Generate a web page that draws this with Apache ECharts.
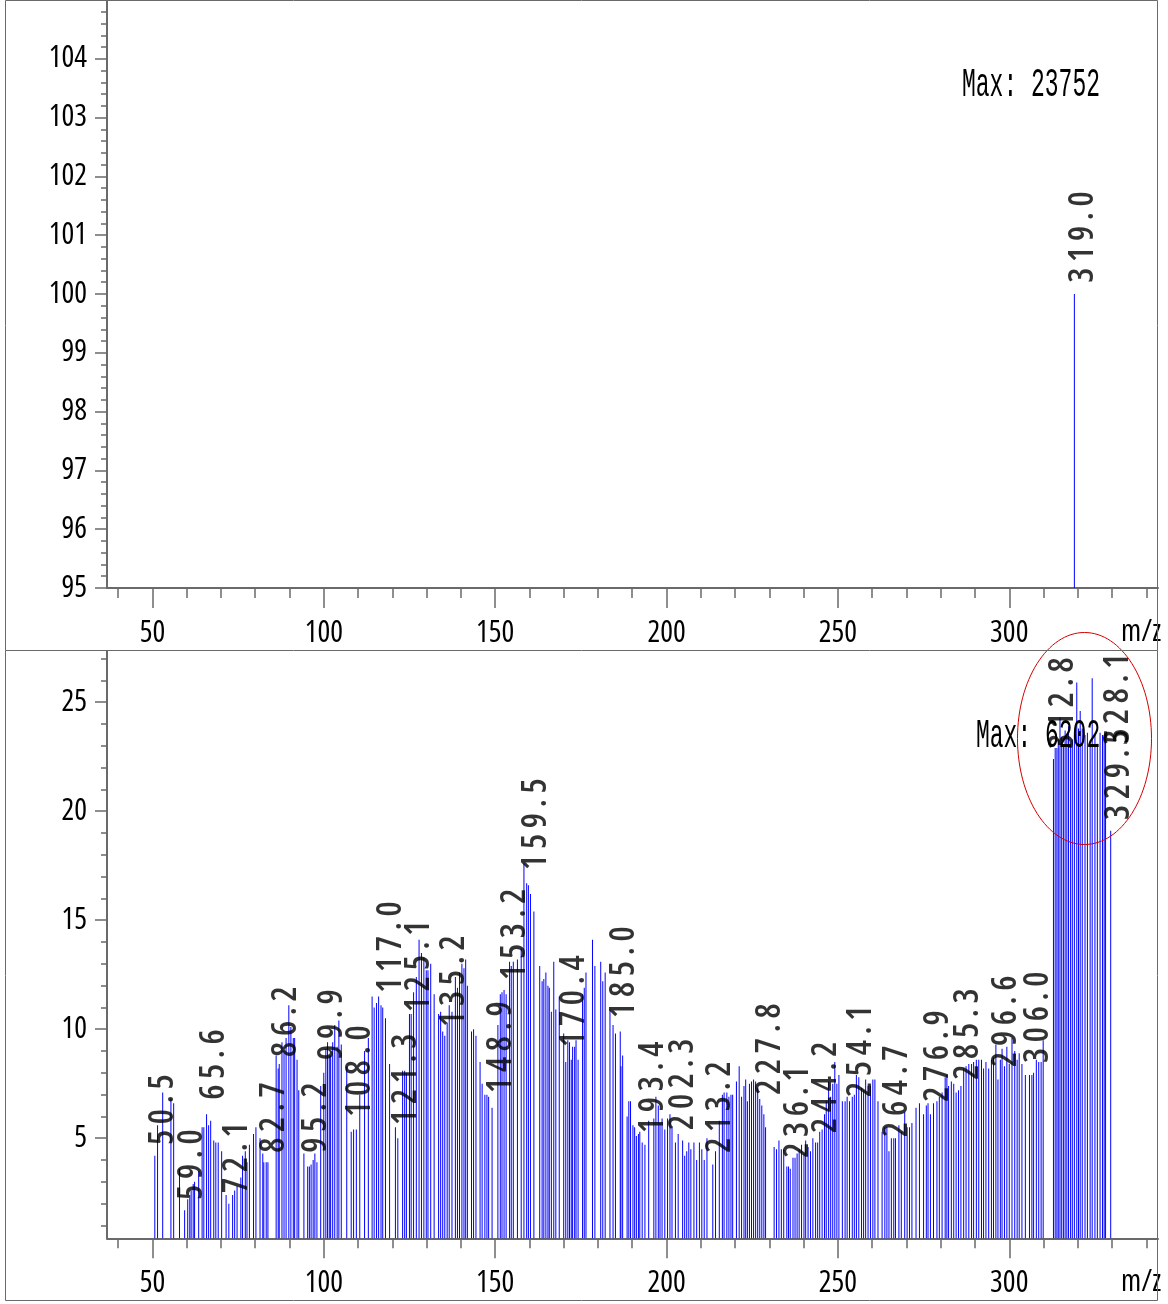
<!DOCTYPE html>
<html><head><meta charset="utf-8">
<script src="https://cdn.jsdelivr.net/npm/echarts@6/dist/echarts.min.js"></script>
<style>html,body{margin:0;padding:0;background:#fff}#c{width:1168px;height:1304px}</style>
</head><body><div id="c"></div>
<script>
// Condensed face: map the token "OpenSansCond" to Open Sans with font-stretch: condensed (canvas).
(function () {
  try {
    const P = CanvasRenderingContext2D.prototype;
    const d = Object.getOwnPropertyDescriptor(P, 'font');
    Object.defineProperty(P, 'font', {
      configurable: true,
      get() { return d.get.call(this); },
      set(v) {
        if (typeof v === 'string' && v.indexOf('OpenSansCond') >= 0) {
          d.set.call(this, v.replace('OpenSansCond', '"Open Sans"'));
          this.fontStretch = 'condensed';
        } else {
          d.set.call(this, v);
          this.fontStretch = 'normal';
        }
      }
    });
  } catch (e) {}
})();

// ---- data: top panel (full scale, %) ----
const topMz = [319.0];
const topIntensity = [100];
const topLabelText = ['319.0'];
const topLabelMz = [321.7];
const topLabelLevel = [100.19];
const topMaxText = 'Max: 23752';

// ---- data: bottom panel (zoomed, %) ----
const spectrumMz = [
50.7,51.5,53.0,55.4,56.2,57.9,59.4,60.3,60.9,61.3,61.9,62.3,63.5,64.5,65.0,65.8,66.4,67.0,67.9,68.5,69.2,70.2,71.5,72.3,73.4,74.0,74.7,75.8,76.3,77.1,77.6,78.3,79.5,80.2,81.4,82.2,82.5,83.2,83.7,
86.1,86.7,87.0,87.8,88.4,89.0,89.8,90.4,91.1,91.5,92.2,92.7,94.2,95.3,95.8,96.3,96.9,97.4,98.0,99.1,100.0,100.6,101.1,101.6,102.0,102.6,103.2,103.9,104.4,105.1,106.7,108.0,108.7,109.5,110.5,111.9,113.0,
114.1,114.7,115.4,116.0,116.7,117.2,118.0,119.2,120.9,121.6,123.0,123.6,124.1,125.0,125.5,126.2,127.0,127.8,128.5,129.2,129.9,130.4,131.2,132.2,133.5,134.1,134.7,135.3,136.0,136.6,137.4,138.4,139.0,139.6,140.3,140.9,141.4,141.9,
143.1,143.7,144.4,145.6,146.2,147.0,147.6,148.1,149.1,150.8,151.5,152.0,152.6,153.2,154.2,154.7,155.3,156.5,157.6,158.4,159.2,159.7,160.3,161.3,163.0,163.7,164.2,164.8,165.4,165.8,166.4,167.1,167.7,168.7,
170.0,170.6,171.2,171.7,172.2,172.6,173.2,173.6,174.2,175.5,176.0,176.5,178.4,179.1,180.8,181.4,182.1,183.5,184.4,185.1,186.5,186.7,187.2,188.5,189.0,189.5,190.2,190.7,191.2,191.8,192.2,192.9,193.7,194.8,
196.3,196.9,197.6,198.1,198.7,199.5,200.3,201.0,201.6,202.6,203.4,204.7,205.3,205.9,206.5,207.1,208.0,208.8,209.6,210.3,211.0,211.8,213.5,214.3,215.4,216.3,216.8,217.6,218.2,218.8,219.3,220.4,221.2,221.9,
222.6,223.1,223.6,224.2,224.8,225.4,226.0,226.6,227.2,227.8,228.4,228.9,231.4,232.1,232.8,233.5,234.2,235.1,235.6,236.1,236.9,237.5,238.1,238.7,239.4,240.1,240.6,241.3,242.0,242.7,243.5,244.1,244.7,245.4,
246.1,246.6,247.3,247.9,248.5,249.1,249.7,250.3,251.3,252.1,252.7,253.4,254.2,254.8,255.4,256.1,256.9,257.5,258.1,258.8,259.5,260.2,260.8,261.7,262.9,263.7,264.3,264.9,265.6,266.3,266.8,267.8,268.5,269.5,
270.2,270.9,271.6,272.8,273.8,275.0,275.8,276.3,277.0,277.9,278.9,279.6,280.4,281.3,281.8,282.3,283.1,283.8,284.5,285.2,285.9,286.7,287.4,288.2,289.0,289.6,290.4,291.1,291.9,292.5,293.2,294.0,294.8,295.4,
296.1,296.7,297.4,297.9,298.6,299.3,300.0,300.8,301.6,302.3,302.9,303.7,304.7,305.9,306.6,307.1,307.9,308.6,309.3,309.9,
312.9,313.4,313.9,314.3,314.8,315.3,315.8,316.3,316.8,317.3,317.9,318.4,319.0,319.7,320.2,320.7,321.3,322.1,322.8,323.6,324.2,325.0,325.7,326.5,327.2,327.7,328.1,329.6
];
const spectrumIntensity = [
4.2,5.6,7.1,6.8,6.6,3.6,1.7,2.2,2.4,2.6,2.9,3.0,3.5,5.5,5.5,6.1,5.6,5.8,4.9,4.8,4.8,4.4,2.4,2.0,2.4,2.6,2.8,3.2,4.2,4.4,3.9,4.7,5.2,5.5,5.0,4.3,3.9,3.9,3.9,
8.8,8.2,8.4,9.4,9.0,9.6,11.1,10.1,9.6,9.6,8.6,7.2,4.3,3.7,3.7,3.8,4.0,4.3,3.9,7.4,8.0,9.1,9.4,8.8,8.8,9.4,10.2,9.2,10.4,9.3,8.3,5.3,5.4,5.4,7.0,9.0,9.6,
11.5,11.0,11.2,11.5,11.1,11.0,10.5,8.4,5.5,5.0,8.1,8.1,8.0,10.7,10.7,11.7,12.4,14.1,13.5,13.3,12.7,12.7,13.0,11.6,10.7,10.8,9.9,9.7,10.3,11.1,10.8,12.4,11.9,12.6,13.0,12.8,13.2,12.0,
9.9,10.0,9.7,8.5,7.5,7.0,7.0,6.9,6.4,10.2,11.6,11.7,11.8,11.6,13.1,12.9,13.1,13.2,13.7,17.6,16.7,16.6,16.2,15.4,12.9,12.2,12.3,12.6,12.0,11.9,10.8,13.1,10.9,11.5,
9.8,8.5,9.5,9.4,8.6,9.2,9.2,9.5,8.6,11.6,11.9,12.6,14.1,12.9,13.1,12.2,12.6,10.9,10.2,9.8,9.9,8.3,8.8,6.0,6.7,6.7,5.6,5.5,5.1,5.2,5.3,4.8,4.7,5.8,
5.9,6.9,6.5,5.7,5.9,5.4,5.9,6.1,5.5,4.8,5.2,4.9,4.2,4.4,4.8,4.5,4.8,4.0,4.8,4.5,4.0,5.0,3.8,4.4,5.8,7.0,7.1,7.1,6.9,7.0,7.0,7.6,8.3,6.9,
7.4,7.7,6.7,7.5,7.6,7.7,7.6,7.3,6.8,6.5,6.1,5.5,4.6,4.5,4.9,4.5,4.5,3.7,3.7,3.6,4.1,4.1,4.3,4.5,4.7,4.3,4.9,4.6,4.4,5.0,4.8,4.8,5.3,5.4,
6.1,6.7,7.6,6.9,7.5,8.5,7.5,7.9,6.7,6.7,6.9,6.7,6.9,7.0,7.9,7.8,7.3,7.2,7.7,7.4,7.4,7.7,7.7,6.7,5.3,5.5,5.5,4.4,5.0,5.0,5.0,5.6,5.3,6.2,
5.5,5.5,5.7,6.4,6.6,6.1,6.5,6.6,6.1,6.6,6.7,6.9,7.1,7.8,7.9,7.4,7.6,7.5,7.1,7.2,7.4,8.2,8.3,8.4,8.4,8.5,8.6,8.6,8.6,8.2,8.5,8.2,8.6,8.7,
9.3,7.7,8.6,9.1,8.3,9.2,8.4,9.6,9.0,8.6,8.9,8.4,7.9,7.9,7.9,8.0,8.6,8.5,8.5,9.5,
22.4,22.9,22.9,23.3,24.3,23.4,23.0,23.7,23.5,23.9,23.0,23.3,23.5,25.9,23.8,24.6,23.8,23.5,23.6,23.1,26.1,23.5,23.1,23.6,23.5,23.4,23.5,19.1
];
const labelText = ['50.5','59.0','65.6','72.1','82.7','86.2','95.2','99.9','108.0','117.0','121.3','125.1','135.2','148.9','153.2','159.5','170.4','185.0','193.4','202.3','213.2','227.8','236.1','244.2','254.1','264.7','276.9','285.3','296.6','306.0','312.8','328.1','329.5'];
const labelMz = [53.2,61.5,68.2,74.7,85.5,89.0,97.9,102.4,110.6,119.6,124.0,127.8,138.0,151.7,155.8,161.9,173.0,187.6,196.1,204.9,215.6,230.2,238.4,246.5,256.8,267.3,279.4,288.0,299.2,308.4,315.7,331.8,332.1];
const labelLevel = [4.69,2.17,6.76,2.49,4.33,8.73,4.33,8.59,5.98,11.67,5.61,10.79,10.11,7.08,12.26,17.31,9.19,10.52,5.24,5.38,4.33,6.99,4.10,5.24,6.89,5.06,6.67,7.68,8.27,8.45,22.86,23.04,19.60];
const bottomMaxText = 'Max: 6202';

// ---- axis ticks ----
const xMajorTicks = [50,100,150,200,250,300];
const xMinorTicks = [40,60,70,80,90,110,120,130,140,160,170,180,190,210,220,230,240,260,270,280,290,310,320,330,340];
const topYLabels = [95,96,97,98,99,100,101,102,103,104];
const bottomYLabels = [5,10,15,20,25];
const bottomYMinor = [1,2,3,4,6,7,8,9,11,12,13,14,16,17,18,19,21,22,23,24,26,27];
const topYMinor = [];
for (let v = 95; v <= 105.001; v += 0.2) topYMinor.push(+v.toFixed(1));

const COND = 'OpenSansCond';
const AX = '#6a6a6a';
const X_MIN = 36.75, X_MAX = 343.4;

function zip(a, b) { return a.map((v, i) => [v, b[i]]); }
function spaced(t) { return t.split('').join('\u2009'); }

function xAxes(grid) {
  return [
    { gridIndex: grid, type: 'value', position: 'bottom', min: X_MIN, max: X_MAX, splitLine: { show: false },
      axisLine: { show: true, onZero: false, lineStyle: { color: AX, width: 2 } },
      axisTick: { show: true, customValues: xMajorTicks, length: 20, lineStyle: { color: AX, width: 1.5 } },
      axisLabel: { show: true, customValues: xMajorTicks, margin: 30, fontSize: 30, fontFamily: COND, color: '#000' } },
    { gridIndex: grid, type: 'value', position: 'bottom', min: X_MIN, max: X_MAX, splitLine: { show: false },
      axisLine: { show: false, onZero: false },
      axisTick: { show: true, customValues: xMinorTicks, length: 10, lineStyle: { color: AX, width: 1.5 } },
      axisLabel: { show: false } }
  ];
}
function yAxes(grid, min, max, labels, minor) {
  return [
    { gridIndex: grid, type: 'value', position: 'left', min: min, max: max, splitLine: { show: false },
      axisLine: { show: true, onZero: false, lineStyle: { color: AX, width: 2 } },
      axisTick: { show: true, customValues: labels, length: 12, lineStyle: { color: AX, width: 1.5 } },
      axisLabel: { show: true, customValues: labels, margin: 20, fontSize: 30, fontFamily: COND, color: '#000' } },
    { gridIndex: grid, type: 'value', position: 'left', min: min, max: max, splitLine: { show: false },
      axisLine: { show: false, onZero: false },
      axisTick: { show: true, customValues: minor, length: 6, lineStyle: { color: AX, width: 1.5 } },
      axisLabel: { show: false } }
  ];
}
function labelSeries(xi, yi, texts, mz, level) {
  return {
    type: 'scatter', xAxisIndex: xi, yAxisIndex: yi, symbolSize: 0, silent: true, z: 5,
    data: texts.map((t, i) => ({ value: [mz[i], level[i]], name: t })),
    label: { show: true, position: 'inside', rotate: 90, align: 'left', verticalAlign: 'middle',
      formatter: p => spaced(p.name), fontSize: 34, fontWeight: 600, fontFamily: COND, color: '#000' }
  };
}

const chart = echarts.init(document.getElementById('c'), null, { renderer: 'canvas' });
chart.setOption({
  animation: false,
  backgroundColor: '#fff',
  grid: [
    { left: 107, top: 0, width: 1051, height: 588 },
    { left: 107, top: 651, width: 1051, height: 587.3 }
  ],
  xAxis: [...xAxes(0), ...xAxes(1)],
  yAxis: [...yAxes(0, 95, 105, topYLabels, topYMinor), ...yAxes(1, 0.41, 27.35, bottomYLabels, bottomYMinor)],
  series: [
    { type: 'bar', xAxisIndex: 0, yAxisIndex: 0, barWidth: 1, silent: true,
      itemStyle: { color: '#0000ff' }, data: zip(topMz, topIntensity) },
    labelSeries(0, 0, topLabelText, topLabelMz, topLabelLevel),
    { type: 'bar', xAxisIndex: 2, yAxisIndex: 2, barWidth: 1, silent: true,
      itemStyle: { color: '#0000ff' }, data: zip(spectrumMz, spectrumIntensity) },
    labelSeries(2, 2, labelText, labelMz, labelLevel)
  ],
  graphic: [
    { type: 'rect', silent: true, z: 100, shape: { x: 5.5, y: 0.5, width: 1152, height: 1300 },
      style: { fill: 'none', stroke: AX, lineWidth: 1 } },
    { type: 'line', silent: true, z: 100, shape: { x1: 5.5, y1: 650.5, x2: 1157.5, y2: 650.5 },
      style: { stroke: AX, lineWidth: 1 } },
    { type: 'text', silent: true, z: 50, x: 962, y: 85, scaleY: 1.75,
      style: { text: topMaxText, font: "23px 'Liberation Mono','DejaVu Sans Mono',monospace", fill: '#000', verticalAlign: 'middle' } },
    { type: 'text', silent: true, z: 4, x: 976, y: 736, scaleY: 1.75,
      style: { text: bottomMaxText, font: "23px 'Liberation Mono','DejaVu Sans Mono',monospace", fill: '#000', verticalAlign: 'middle' } },
    { type: 'text', silent: true, z: 50, x: 1121, y: 632,
      style: { text: 'm/z', font: "30px " + COND, fill: '#000', verticalAlign: 'middle' } },
    { type: 'text', silent: true, z: 50, x: 1121, y: 1282,
      style: { text: 'm/z', font: "30px " + COND, fill: '#000', verticalAlign: 'middle' } },
    { type: 'ellipse', silent: true, z: 60, shape: { cx: 1084.5, cy: 738.5, rx: 67, ry: 106 },
      style: { fill: 'none', stroke: '#d40000', lineWidth: 1 } }
  ]
});
</script>
</body></html>
